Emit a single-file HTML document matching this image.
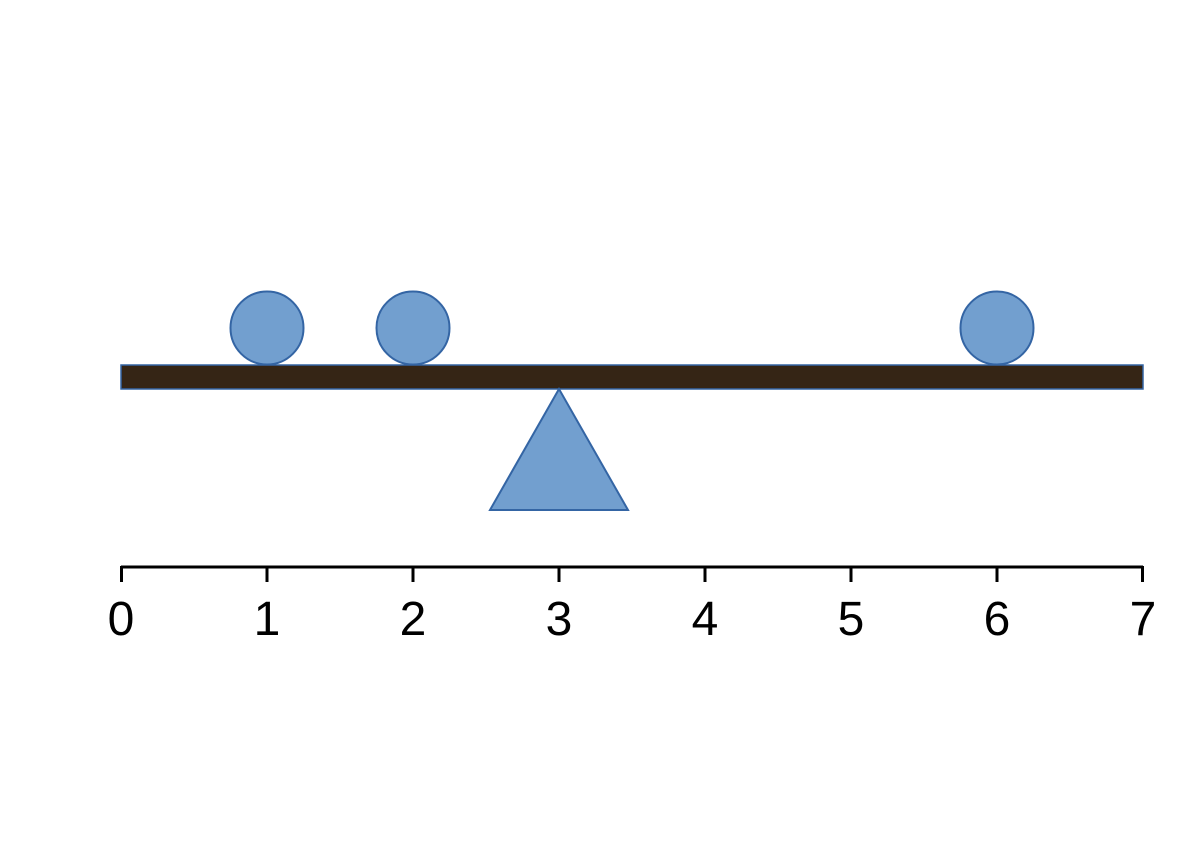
<!DOCTYPE html>
<html><head><style>body{margin:0;background:#fff}</style></head><body>
<svg width="1200" height="852" xmlns="http://www.w3.org/2000/svg">
<rect x="0" y="0" width="1200" height="852" fill="#fff"/>
<rect x="121" y="365" width="1022" height="24" fill="#352515" stroke="#3465a4" stroke-width="1.5"/>
<g fill="#729fcf" stroke="#3465a4" stroke-width="2">
<circle cx="267" cy="328" r="36.5"/>
<circle cx="413" cy="328" r="36.5"/>
<circle cx="997" cy="328" r="36.5"/>
<polygon points="559,389 490,510 628,510"/>
</g>
<g stroke="#000" stroke-width="3" fill="none">
<line x1="121" y1="567" x2="1143" y2="567"/>
<path d="M121.5 566V582M267 566V582M413 566V582M559 566V582M705 566V582M851 566V582M997 566V582M1142.5 566V582"/>
</g>
<g font-family="Liberation Sans, sans-serif" font-size="48" text-anchor="middle" fill="#000">
<text x="121" y="635">0</text><text x="267" y="635">1</text><text x="413" y="635">2</text><text x="559" y="635">3</text><text x="705" y="635">4</text><text x="851" y="635">5</text><text x="997" y="635">6</text><text x="1143" y="635">7</text>
</g>
</svg>
</body></html>
